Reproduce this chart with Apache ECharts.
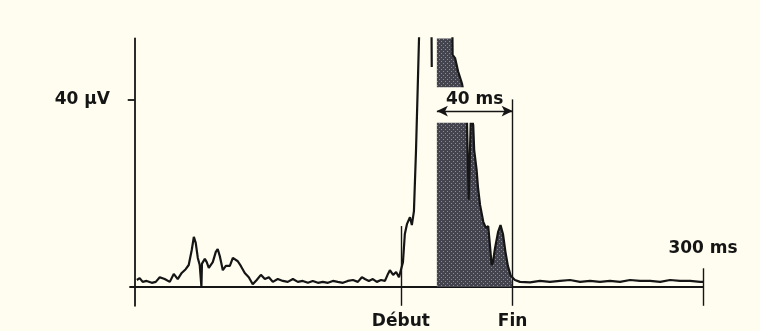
<!DOCTYPE html>
<html>
<head>
<meta charset="utf-8">
<script src="https://cdn.jsdelivr.net/npm/echarts@6/dist/echarts.min.js"></script>
<style>
  html, body { margin: 0; padding: 0; background: #fffdf0; }
  #chart { width: 760px; height: 331px; }
</style>
</head>
<body>
<div id="chart"></div>
<script>
// Potentiel évoqué : tracé en µV en fonction du temps (ms)
const temps = [
  1.1, 2.6, 4.2, 6.3, 9.0, 11.1, 13.2, 15.8, 18.5, 20.6, 22.7, 24.8, 26.9, 28.5,
  30.1, 31.2, 32.2, 33.3, 34.3, 34.9, 35.2, 35.5, 37.0, 38.0, 39.1, 41.2, 42.8,
  43.8, 44.9, 46.5, 48.1, 50.2, 51.8, 52.8, 54.4, 56.0, 58.1, 60.2, 62.3, 64.4,
  66.6, 68.7, 70.8, 72.9, 75.5, 78.2, 80.8, 83.5, 86.1, 88.7, 91.4, 94.0, 96.7,
  99.3, 102.0, 104.6, 107.2, 109.9, 112.5, 115.2, 117.8, 119.9, 121.5, 123.6,
  125.7, 127.8, 130.0, 132.1, 133.7, 134.7, 136.4, 138.0, 139.5, 140.5, 141.6,
  142.6, 143.7, 145.3, 146.3, 147.4, 148.5, 149.5, 150.6, 156.6, 156.8, 157.5,
  159.5, 167.5, 167.8, 169.1, 170.7, 172.8, 173.8, 175.3, 176.3, 177.5, 178.7,
  179.2, 180.5, 181.2, 182.3, 184.0, 185.4, 186.6, 187.5, 188.4, 189.1, 190.2,
  191.8, 193.1, 194.4, 195.7, 197.0, 198.5, 199.5, 200.7, 203.4, 208.7, 213.9,
  219.2, 224.5, 229.8, 235.1, 240.4, 245.6, 250.9, 256.2, 261.5, 266.8, 272.1,
  277.4, 282.6, 287.9, 293.2, 298.5, 300.0
];
const amplitudes = [
  1.5, 1.9, 1.1, 1.3, 0.9, 1.1, 2.1, 1.7, 1.1, 2.8, 1.7, 3.0, 3.8, 4.7,
  7.9, 10.7, 9.4, 6.2, 4.7, 4.7, 0.0, 5.0, 6.0, 5.3, 4.1, 5.3, 7.5,
  8.1, 6.6, 3.6, 4.5, 4.5, 6.2, 6.4, 5.5, 4.5, 3.0, 2.1, 0.6, 1.5,
  2.6, 1.7, 2.1, 1.1, 1.7, 1.3, 1.1, 1.7, 1.1, 1.3, 0.9, 1.3, 0.9,
  1.1, 0.9, 1.3, 1.1, 0.9, 1.3, 1.5, 1.1, 2.1, 1.7, 1.3,
  1.7, 1.1, 1.5, 1.3, 2.8, 3.6, 2.6, 3.2, 2.1, 1.9, 5.3,
  11.3, 13.4, 14.9, 13.2, 16.2, 29.2, 44.1, 61.0, 60.0, 46.9, null,
  65.0, 65.0, 49.5, 48.8, 46.0, 43.3, 41.0, 37.0, 18.6, 37.0, 34.5,
  29.2, 24.9, 21.3, 17.5, 13.9, 12.6, 13.0, 9.0, 4.7, 5.3, 8.3,
  11.7, 13.2, 11.3, 7.5, 4.5, 2.4, 2.0, 1.5, 1.1, 1.0, 1.3,
  1.1, 1.3, 1.5, 1.1, 1.3, 1.1, 1.3, 1.1, 1.5, 1.3, 1.3,
  1.1, 1.5, 1.3, 1.3, 1.1, 1.1
];

// Repères temporels (ms)
const debut = 140.5;
const fin = 199.5;
const fenetre = 40;              // durée de la fenêtre grisée
const debutFenetre = fin - fenetre;
const finTrace = 300;

// Graduation de l'axe des amplitudes
const graduationsY = [40];
const uniteY = 'µV';

// Bande blanche sous la cote « 40 ms » (µV)
const bandeCote = [35, 42.6];

const fond = '#fffdf0';
const encre = '#151515';
const police = 'DejaVu Sans';
const texte = { color: encre, fontFamily: police, fontSize: 17, fontWeight: 'bold' };

const trace = temps.map((t, i) => [t, amplitudes[i] === null ? '-' : amplitudes[i]]);
const zoneGrisee = trace.filter(p => p[0] >= debutFenetre && p[0] <= fin);

// Trame pointillée de la zone grisée
const trame = document.createElement('canvas');
trame.width = 4; trame.height = 4;
const ctx = trame.getContext('2d');
ctx.fillStyle = '#44444f';
ctx.fillRect(0, 0, 4, 4);
ctx.fillStyle = '#8d8d99';
ctx.fillRect(1, 1, 1, 1);
ctx.fillRect(3, 3, 1, 1);

const chart = echarts.init(document.getElementById('chart'), null, { renderer: 'canvas' });

chart.setOption({
  backgroundColor: fond,
  animation: false,
  grid: { left: 130, right: 57, top: 38.4, bottom: 25.2, outerBoundsMode: 'none', containLabel: false },
  xAxis: {
    type: 'value',
    min: -2.5,
    max: finTrace,
    axisLine: { show: true, onZero: true, lineStyle: { color: encre, width: 1.8 } },
    axisTick: { show: false },
    splitLine: { show: false },
    axisLabel: Object.assign({
      customValues: [debut, fin],
      formatter: v => (v === debut ? 'Début' : 'Fin'),
      margin: 7
    }, texte)
  },
  yAxis: {
    type: 'value',
    min: -4,
    max: 53,
    axisLine: { show: true, onZero: true, lineStyle: { color: encre, width: 1.8 } },
    axisTick: { show: true, customValues: graduationsY, length: 7, lineStyle: { color: encre, width: 1.8 } },
    splitLine: { show: false },
    axisLabel: Object.assign({
      customValues: graduationsY,
      formatter: v => v + ' ' + uniteY,
      margin: 20
    }, texte)
  },
  series: [
    {
      name: 'fenêtre',
      type: 'line',
      data: zoneGrisee,
      showSymbol: false,
      z: 1,
      lineStyle: { width: 0 },
      areaStyle: { color: { image: trame, repeat: 'repeat' }, opacity: 1 },
      silent: true
    },
    {
      name: 'tracé',
      type: 'line',
      data: trace,
      showSymbol: false,
      connectNulls: false,
      z: 2,
      lineStyle: { color: encre, width: 2.2 },
      silent: true
    },
    {
      // bande de fond qui dégage la cote de la fenêtre
      name: 'masque',
      type: 'custom',
      z: 3,
      silent: true,
      data: [[debutFenetre, fin, bandeCote[0], bandeCote[1]]],
      renderItem: (params, api) => {
        const a = api.coord([api.value(0), api.value(3)]);
        const b = api.coord([api.value(1), api.value(2)]);
        return {
          type: 'rect',
          shape: { x: a[0] - 1, y: a[1], width: b[0] - a[0] + 1, height: b[1] - a[1] },
          style: { fill: fond }
        };
      }
    },
    {
      name: 'repères',
      type: 'line',
      data: [],
      z: 4,
      silent: true,
      markLine: {
        silent: true,
        animation: false,
        symbol: 'none',
        lineStyle: { color: encre, width: 1.4, type: 'solid' },
        label: { show: false },
        data: [
          [{ coord: [debut, -4] }, { coord: [debut, 13] }],
          [{ coord: [fin, -4] }, { coord: [fin, 40] }],
          [
            {
              coord: [finTrace, -4],
              label: Object.assign({ show: true, position: 'end', distance: 11, formatter: finTrace + ' ms' }, texte)
            },
            { coord: [finTrace, 4] }
          ],
          [
            {
              coord: [debutFenetre, 37.5], symbol: 'arrow', symbolSize: [8, 11],
              label: Object.assign({ show: true, position: 'insideMiddleTop', distance: 3, formatter: fenetre + ' ms' }, texte)
            },
            { coord: [fin, 37.5], symbol: 'arrow', symbolSize: [8, 11] }
          ]
        ]
      }
    }
  ]
});
</script>
</body>
</html>
